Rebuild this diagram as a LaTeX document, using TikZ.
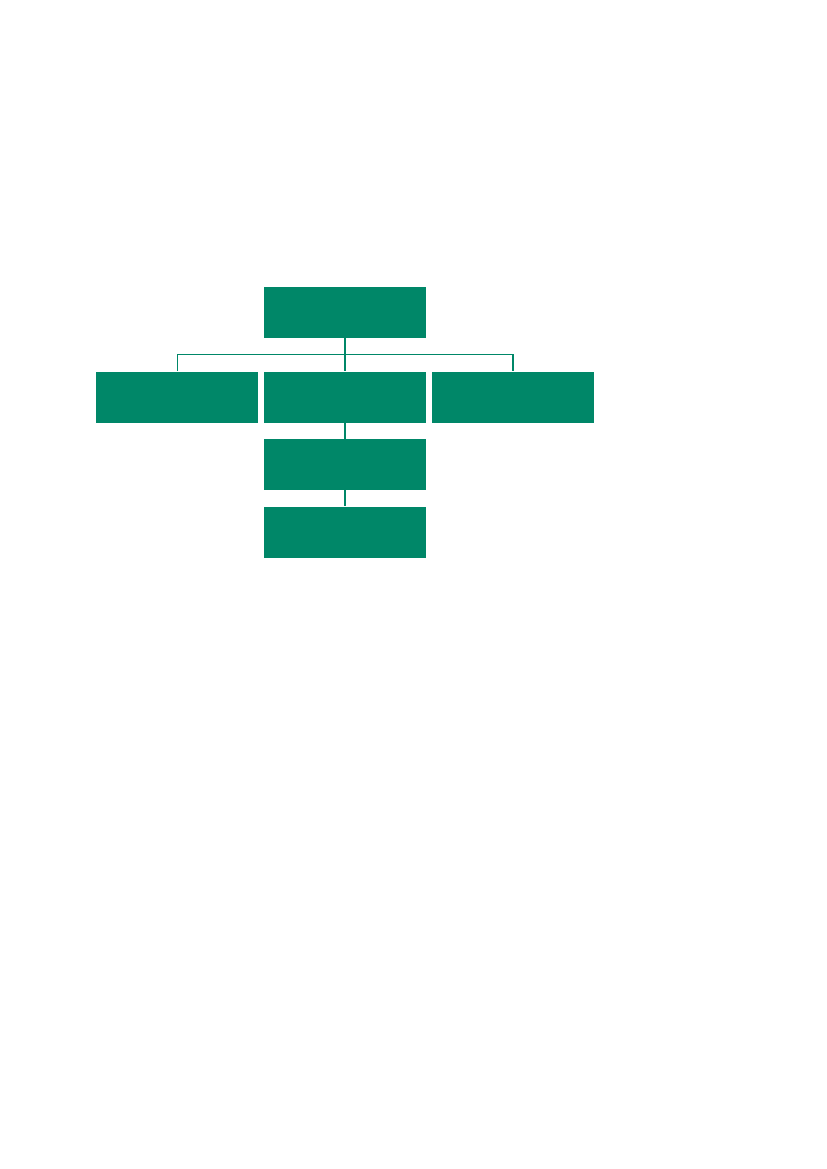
\documentclass[tikz,border=0pt]{standalone}
\begin{document}
\begin{tikzpicture}[x=0.7198pt,y=-0.7198pt,
  box/.style={fill=boxgreen,draw=none,inner sep=0pt,minimum width=162*0.7198pt,minimum height=51*0.7198pt},
  conn/.style={draw=boxgreen,line width=1pt}]
\definecolor{boxgreen}{RGB}{0,135,104}
\useasboundingbox (0,0) rectangle (827,1169);
\fill[white] (0,0) rectangle (827,1169);
\node[box] (top) at (345,312.3) {};
\node[box] (left) at (177.3,397) {};
\node[box] (mid) at (345,397) {};
\node[box] (right) at (513,397) {};
\node[box] (third) at (345,464.5) {};
\node[box] (fourth) at (345,532) {};
\coordinate (bar) at (345,354.7);
\draw[conn] (top.south) -- (mid.north);
\draw[conn] (left.north) |- (bar) -| (right.north);
\draw[conn] (mid.south) -- (third.north);
\draw[conn] (third.south) -- (fourth.north);
\end{tikzpicture}
\end{document}
